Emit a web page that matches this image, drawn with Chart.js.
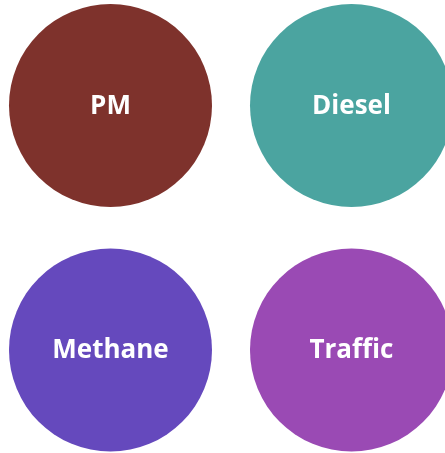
<!DOCTYPE html>
<html>
<head>
<meta charset="utf-8">
<script src="https://cdn.jsdelivr.net/npm/chart.js@4/dist/chart.umd.min.js"></script>
<style>
  html, body { margin: 0; padding: 0; background: #fff; }
  #wrap { width: 445px; height: 453px; }
</style>
</head>
<body>
<div id="wrap"><canvas id="bubbleChart" width="445" height="453"></canvas></div>
<script>
const labels = ["PM", "Diesel", "Methane", "Traffic"];
const colsX = [0, 1, 0, 1];
const rowsY = [1, 1, 0, 0];
const values = [1, 1, 1, 1];
const colors = ["#7e322c", "#4ba4a0", "#6549bd", "#9a4ab4"];

// draw the label in the middle of each bubble
const bubbleLabels = {
  id: "bubbleLabels",
  afterDatasetsDraw(chart) {
    const ctx = chart.ctx;
    const meta = chart.getDatasetMeta(0);
    ctx.save();
    ctx.fillStyle = "#ffffff";
    ctx.font = "bold 26px 'Open Sans'";
    ctx.textAlign = "center";
    ctx.textBaseline = "middle";
    meta.data.forEach(function(pt, i) {
      ctx.fillText(labels[i], pt.x, pt.y + 1);
    });
    ctx.restore();
  }
};

document.addEventListener("DOMContentLoaded", function() {
  const canvas = document.getElementById("bubbleChart");
  new Chart(canvas.getContext("2d"), {
    type: "bubble",
    data: {
      labels: labels,
      datasets: [{
        data: labels.map((l, i) => ({ x: colsX[i], y: rowsY[i], r: values[i] * 101.5 })),
        backgroundColor: colors,
        hoverBackgroundColor: colors,
        borderWidth: 0,
        hoverBorderWidth: 0,
        clip: false
      }]
    },
    options: {
      responsive: false,
      animation: false,
      layout: { padding: 0, autoPadding: false },
      plugins: { legend: { display: false }, tooltip: { enabled: false } },
      scales: {
        x: { display: false, min: -0.4585, max: 1.388 },
        y: { display: false, min: -0.4213, max: 1.4315 }
      }
    },
    plugins: [bubbleLabels]
  });
});
</script>
</body>
</html>
